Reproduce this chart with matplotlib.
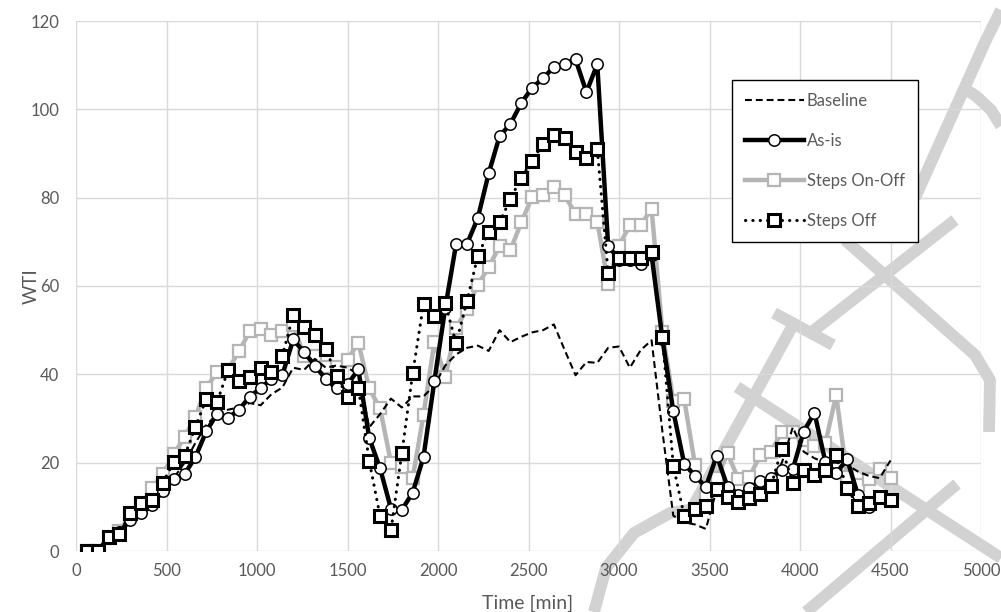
"""
WTI over time for the four control strategies (Excel-style line chart).
"""

import matplotlib
matplotlib.use("Agg")
import matplotlib.pyplot as plt
from matplotlib.lines import Line2D

plt.rcParams.update({"font.family": ["Lato", "DejaVu Sans"], "font.size": 12})

C_TEXT = "#595959"
C_GRID = "#d9d9d9"
C_GREY = "#b5b5b5"
C_WM = "#d2d2d2"

# time axis [min], one sample every hour
time_min = [60, 120, 180, 240, 300, 360, 420, 480, 540, 600, 660, 720, 780, 840, 900,
            960, 1020, 1080, 1140, 1200, 1260, 1320, 1380, 1440, 1500, 1560, 1620, 1680,
            1740, 1800, 1860, 1920, 1980, 2040, 2100, 2160, 2220, 2280, 2340, 2400, 2460,
            2520, 2580, 2640, 2700, 2760, 2820, 2880, 2940, 3000, 3060, 3120, 3180, 3240,
            3300, 3360, 3420, 3480, 3540, 3600, 3660, 3720, 3780, 3840, 3900, 3960, 4020,
            4080, 4140, 4200, 4260, 4320, 4380, 4440, 4500]

baseline = [0, 0, 3, 4, 6.5, 8.5, 10.5, 13.5, 16.5, 20, 24.5, 28.5, 31, 32, 32.5,
            33.5, 33, 35.5, 37, 41.5, 41, 43.5, 41.5, 42, 41.5, 40, 28, 31,
            34.5, 32.5, 35, 35, 37.5, 42, 44.5, 46, 46.5, 45.3, 50, 47.3, 48.5,
            49.5, 50, 51.3, 45.5, 39.8, 42.8, 42.6, 46, 46.3, 41.5, 45.5, 47.7, 27,
            8, 6.5, 6, 5, 14, 15.5, 13, 14, 14.5, 16, 20, 28, 22.5,
            21, 20, 20, 19.5, 18, 17, 16.5, 20.5]

as_is = [0, 0, 3, 4.3, 7, 8.5, 10.4, 13.6, 16.4, 17.4, 21.3, 27.1, 31.1, 30.1, 32,
         34.9, 36.9, 39, 39.8, 47.9, 45, 42, 38.9, 36.8, 37.7, 41.1, 25.6, 18.7,
         9.6, 9.3, 13.2, 21.3, 38.5, 55, 69.5, 69.5, 75.4, 85.5, 93.9, 96.7, 101.4,
         104.9, 107, 109.6, 110.3, 111.3, 103.9, 110.2, 69.1, 66, 66, 65, 67, 48,
         31.6, 19.8, 17, 14.5, 21.6, 14.5, 12.7, 14.2, 15.8, 16.6, 18.3, 18.5, 27,
         31.3, 20.2, 17.6, 20.8, 12.7, 10, 12, 11.5]

steps_on_off = [0, 0, 3, 4.5, 8, 10.5, 14.2, 17.4, 21.9, 25.8, 30.4, 37, 40.5, 41, 45.2,
                49.7, 50.2, 49, 49.7, 51.2, 44.2, 44.2, 41.6, 41.6, 43.3, 47.2, 36.8, 32.3,
                20, 19, 16.5, 30.9, 47.3, 39.5, 50.5, 54.7, 60.3, 64.2, 69.1, 68.1, 74.4,
                80.1, 80.5, 82.4, 80.6, 76.2, 76.2, 74.6, 60.5, 69.1, 73.8, 73.8, 77.5, 49.6,
                34, 34.4, 19.5, 12.7, 16.5, 22.1, 16.2, 16.7, 21.7, 22.5, 27, 27, 25.1,
                23.8, 24.4, 35.3, 16.8, 14.9, 16.2, 18.5, 16.5]

steps_off = [0, 0, 3.2, 3.9, 8.6, 10.9, 11.5, 15.5, 20.1, 21.5, 28.1, 34.5, 33.8, 40.9, 38.6,
             39.4, 41.5, 40.5, 44.1, 53.5, 50.7, 49, 45.8, 39.6, 34.9, 37, 20.4, 7.9,
             4.7, 22.1, 40.2, 55.9, 53.1, 56.1, 47, 56.6, 66.8, 72.3, 74.4, 79.7, 84.5,
             88.4, 92.1, 94.2, 93.4, 90.4, 88.9, 91.1, 63, 66.3, 66.4, 66.4, 67.8, 48.4,
             19.3, 8, 9.4, 10.2, 14, 12.2, 11, 11.9, 13, 14.7, 23.2, 15.5, 18.3,
             17.2, 18.3, 21.7, 14.2, 10.2, 10.9, 12.2, 11.5]

x_ticks = [0, 500, 1000, 1500, 2000, 2500, 3000, 3500, 4000, 4500, 5000]
y_ticks = [0, 20, 40, 60, 80, 100, 120]

# faint "accepted manuscript" watermark strokes, in picture pixels (x right, y down)
W, H = 1001, 612
watermark = [
    [(1001, 10), (986, 40), (915, 198)],
    [(960, 86), (976, 96), (991, 110), (1001, 126)],
    [(955, 220), (808, 335)],
    [(845, 240), (975, 355), (990, 380), (989, 432)],
    [(774, 313), (833, 345)],
    [(793, 325), (690, 512)],
    [(594, 612), (606, 568), (634, 533), (670, 513), (712, 506)],
    [(737, 387), (1001, 558)],
    [(957, 484), (806, 612)],
]

fig = plt.figure(figsize=(W / 100, H / 100), dpi=100)
ax = fig.add_axes([76 / W, 1 - 551 / H, 905 / W, 530 / H])

for stroke in watermark:
    xs = [p[0] / W for p in stroke]
    ys = [1 - p[1] / H for p in stroke]
    ax.add_line(Line2D(xs, ys, transform=fig.transFigure, color=C_WM, lw=8.5,
                       solid_capstyle="butt", solid_joinstyle="round",
                       clip_on=False, zorder=0.4))

ax.plot(time_min, steps_on_off, color=C_GREY, lw=3.2, marker="s", ms=8.2,
        mfc="white", mec=C_GREY, mew=1.6, label="Steps On-Off", zorder=2)
ax.plot(time_min, baseline, color="black", lw=1.5, dashes=(3.3, 1.9),
        label="Baseline", zorder=3)
ax.plot(time_min, as_is, color="black", lw=3.2, marker="o", ms=8.2,
        mfc="white", mec="black", mew=1.1, label="As-is", zorder=4)
ax.plot(time_min, steps_off, color="black", lw=2.2, ls=(0, (0.1, 2.3)),
        dash_capstyle="round", marker="s", ms=8.4, mfc="white", mec="black",
        mew=2.2, label="Steps Off", zorder=5)

ax.set_xlim(0, 5000)
ax.set_ylim(0, 120)
ax.set_xticks(x_ticks)
ax.set_yticks(y_ticks)
ax.grid(True, color=C_GRID, lw=1.0)
ax.set_axisbelow(True)
for s in ax.spines.values():
    s.set_visible(False)
ax.tick_params(length=0, labelcolor=C_TEXT, labelsize=12)
ax.tick_params(axis="x", pad=9)
ax.tick_params(axis="y", pad=12)

fig.text(31 / W, 1 - 286 / H, "WTI", rotation=90, ha="center", va="center",
         color=C_TEXT, fontsize=13.5)
fig.text(528 / W, 1 - 603 / H, "Time [min]", ha="center", va="center",
         color=C_TEXT, fontsize=14)

handles, labels = ax.get_legend_handles_labels()
order = [labels.index(n) for n in ["Baseline", "As-is", "Steps On-Off", "Steps Off"]]
leg = ax.legend([handles[i] for i in order], [labels[i] for i in order],
                loc="upper left", bbox_to_anchor=(732 / W, 1 - 80 / H),
                bbox_transform=fig.transFigure, borderaxespad=0, numpoints=1,
                handlelength=3.55, handletextpad=0.2, labelspacing=1.45,
                borderpad=0.75, fancybox=False, framealpha=1, fontsize=12)
leg.get_frame().set_edgecolor("black")
leg.get_frame().set_linewidth(1.0)
for t in leg.get_texts():
    t.set_color(C_TEXT)
leg.set_zorder(10)

fig.savefig("out.png", dpi=100)
